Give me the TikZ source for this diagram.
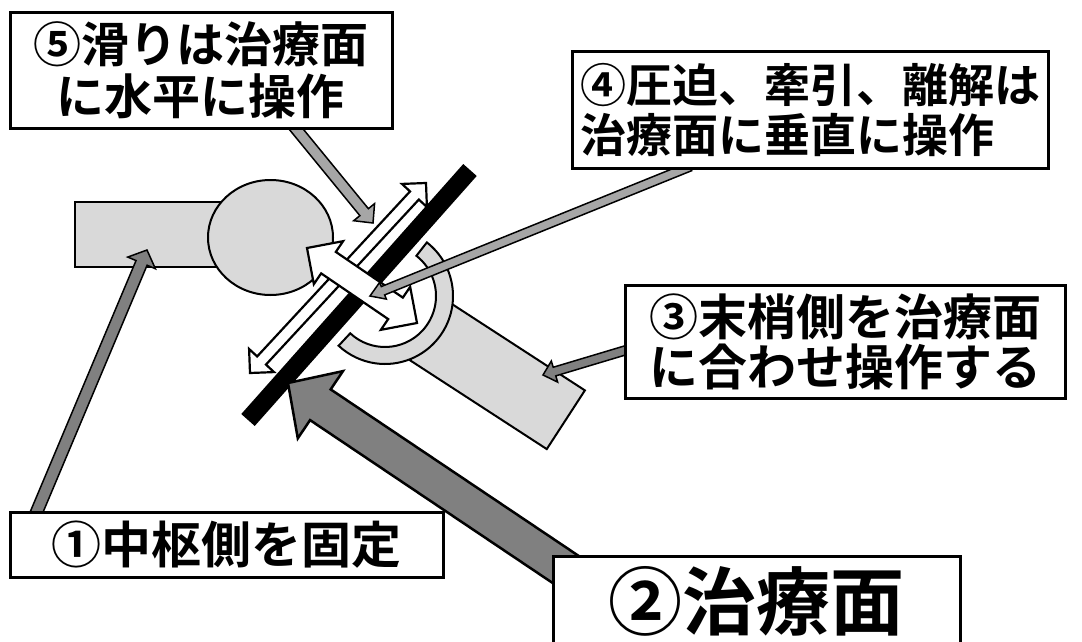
\documentclass[tikz,border=0pt]{standalone}
\usepackage{fontspec}
\newfontfamily\jpfont{Noto Sans CJK JP}[BoldFont={* Bold}, RawFeature=+fwid]
\usetikzlibrary{positioning, calc, math, backgrounds}

% arrow with one head: style, tail, tip, half shaft, half head, head length
\newcommand{\oneArrow}[6]{%
	\draw[#1] ($(#2)!#4!90:(#3)$)
		-- ($(#3)!#6!(#2)!#4!90:(#3)$)
		-- ($(#3)!#6!(#2)!#5!90:(#3)$)
		-- (#3)
		-- ($(#3)!#6!(#2)!#5!-90:(#3)$)
		-- ($(#3)!#6!(#2)!#4!-90:(#3)$)
		-- ($(#2)!#4!-90:(#3)$) -- cycle;
}
% arrow with two heads: style, tip, tip, half shaft, half head, head length
\newcommand{\twoArrow}[6]{%
	\draw[#1] (#2)
		-- ($(#2)!#6!(#3)!#5!90:(#3)$)
		-- ($(#2)!#6!(#3)!#4!90:(#3)$)
		-- ($(#3)!#6!(#2)!#4!90:(#3)$)
		-- ($(#3)!#6!(#2)!#5!90:(#3)$)
		-- (#3)
		-- ($(#3)!#6!(#2)!#5!-90:(#3)$)
		-- ($(#3)!#6!(#2)!#4!-90:(#3)$)
		-- ($(#2)!#6!(#3)!#4!-90:(#3)$)
		-- ($(#2)!#6!(#3)!#5!-90:(#3)$)
		-- cycle;
}

\begin{document}
\begin{tikzpicture}[x=1pt, y=-1pt]
		\tikzmath{
			\boxLine  = 3;     %box border
			\planeW   = 18;    %thickness of the plane
			\ringOut  = 68;    %socket outer radius
			\ringIn   = 51;    %socket inner radius
		}
		\tikzstyle{Box} = [
			draw=black,
			fill=white,
			line width=\boxLine pt,
			inner sep=4pt,
			align=center
		]
		\tikzstyle{Bone} = [
			draw=black,
			fill=gray!30,
			line width=2pt
		]
		\tikzstyle{Move} = [
			draw=black,
			fill=white,
			line width=2.2pt
		]
		\tikzstyle{LightPointer} = [
			draw=black,
			fill=gray!70,
			line width=1.5pt
		]
		\tikzstyle{DarkPointer} = [
			LightPointer,
			fill=gray
		]
		\useasboundingbox (0,0) rectangle (1082,642);

		%%%%%%%%%%%%%%%%%%%%%%%%%%===---TEXT BOXES---===%%%%%%%%%%%%%%%%%%%%%%%%%%
		\node (box5) [Box, minimum width=382pt, minimum height=115pt,
			font=\jpfont\bfseries\fontsize{48pt}{52pt}\selectfont] at (201,70.5)
			{⑤滑りは治療面\\に水平に操作};
		\node (box4) [Box, minimum width=476pt, minimum height=116pt, align=left,
			font=\jpfont\bfseries\fontsize{46pt}{50pt}\selectfont] at (810,110)
			{④圧迫、牽引、離解は\\治療面に垂直に操作};
		\node (box3) [Box, minimum width=440pt, minimum height=113pt,
			font=\jpfont\bfseries\fontsize{49pt}{50pt}\selectfont] at (845,341.5)
			{③末梢側を治療面\\に合わせ操作する};
		\node (box1) [Box, minimum width=433pt, minimum height=65pt,
			font=\jpfont\bfseries\fontsize{50pt}{54pt}\selectfont] at (226.5,544.5)
			{①中枢側を固定};
		\node (box2) [Box, minimum width=407pt, minimum height=90pt,
			font=\jpfont\bfseries\fontsize{74pt}{78pt}\selectfont] at (756.5,601)
			{②治療面};

		\begin{scope}[on background layer]
		\fill[white] (0,0) rectangle (1082,642);
		%%%%%%%%%%%%%%%%%%%%%%%%%%===---JOINT---===%%%%%%%%%%%%%%%%%%%%%%%%%%
		\draw[Bone] (75,202) rectangle (260,267);
		\draw[Bone] (270.5,237.5) ellipse [x radius=62.5pt, y radius=57.5pt];
		\begin{scope}[shift={(383,301)}, rotate=-33]
			\draw[Bone] (55,-35) rectangle (218,35);
		\end{scope}
		\coordinate (ringC) at (385,296);
		\draw[Bone] ($(ringC)+(52:\ringOut pt)$)
			arc[start angle=52, end angle=-133, radius=\ringOut pt]
			-- ($(ringC)+(-133:\ringIn pt)$)
			arc[start angle=-133, end angle=52, radius=\ringIn pt] -- cycle;

		%%%%%%%%%%%%%%%%%%%%%%%%%%===---PLANE AND MOVES---===%%%%%%%%%%%%%%%%%%%%%%%%%%
		\coordinate (planeTop) at (470,170);
		\coordinate (planeBot) at (248,420);
		\draw[line width=\planeW pt] (planeTop) -- (planeBot);
		\coordinate (slideA) at (250,373);
		\coordinate (slideB) at (426,183);
		\twoArrow{Move}{slideA}{slideB}{6pt}{17pt}{17pt}
		\coordinate (pushA) at (307,248);
		\coordinate (pushB) at (417,323);
		\twoArrow{Move}{pushA}{pushB}{13pt}{26pt}{26pt}

		%%%%%%%%%%%%%%%%%%%%%%%%%%===---POINTERS---===%%%%%%%%%%%%%%%%%%%%%%%%%%
		\coordinate (tail5) at ([xshift=93pt, yshift=3pt]box5.south);
		\coordinate (tip5) at (373,223);
		\oneArrow{LightPointer}{tail5}{tip5}{5.5pt}{13.5pt}{14pt}
		\coordinate (tail4) at ([xshift=-120pt, yshift=3pt]box4.south);
		\coordinate (tip4) at (370,296);
		\oneArrow{LightPointer}{tail4}{tip4}{4.5pt}{9pt}{14pt}
		\coordinate (tail3) at ([xshift=3pt, yshift=-8.5pt]box3.west);
		\coordinate (tip3) at (543,375);
		\oneArrow{DarkPointer}{tail3}{tip3}{4.5pt}{11pt}{12pt}
		\coordinate (tail1) at ([xshift=-190.5pt, yshift=-3pt]box1.north);
		\coordinate (tip1) at (147,250);
		\oneArrow{DarkPointer}{tail1}{tip1}{6pt}{15pt}{14pt}
		\coordinate (tail2) at ([xshift=-124.5pt, yshift=-13pt]box2.center);
		\coordinate (tip2) at (288,383);
		\oneArrow{DarkPointer, line width=2.5pt}{tail2}{tip2}{18.5pt}{40.5pt}{39pt}
		\end{scope}
	\end{tikzpicture}
\end{document}
